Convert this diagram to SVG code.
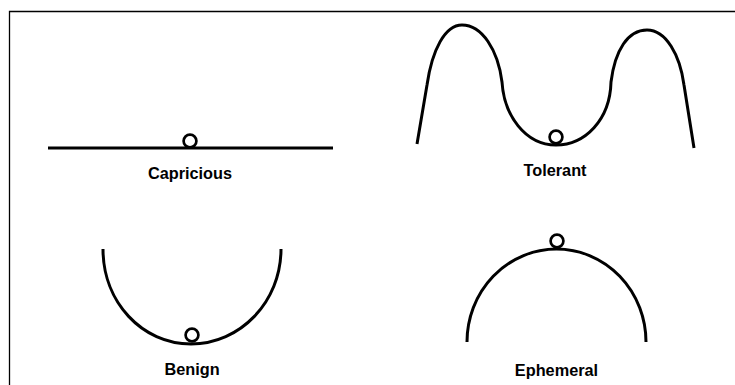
<svg xmlns="http://www.w3.org/2000/svg" width="735" height="385" viewBox="0 0 735 385">
<style>
.curve{fill:none;stroke:#000;stroke-width:3;stroke-linecap:butt;stroke-linejoin:round}
.ball{fill:#fff;stroke:#000;stroke-width:2.7}
.frame{fill:none;stroke:#000;stroke-width:1.3}
.label{font-family:"Liberation Sans",Arial,sans-serif;font-weight:bold;font-size:16.3px;fill:#000;text-anchor:middle}
</style>
<rect width="735" height="385" fill="#fff"/>
<path class="frame" d="M9.5,385 L9.5,11.5 L735,11.5"/>
<g id="capricious">
<path class="curve" d="M48,148 L333,148"/>
<circle class="ball" cx="190" cy="141" r="6.4"/>
<text class="label" x="190" y="179">Capricious</text>
</g>
<g id="tolerant">
<path class="curve" d="M417,144 L427,85 C432,50 445,25 462,25 C482,25 498,50 502,82 C504,115 525,145 556,145 C585,145 610,120 611,82 C615,50 628,30 647,30 C666,30 680,55 684,85 L694,148"/>
<circle class="ball" cx="556" cy="137" r="6.4"/>
<text class="label" x="555" y="176">Tolerant</text>
</g>
<g id="benign">
<path class="curve" d="M103,249 C103,302 142,344 191,344 C240,344 281,302 281,249"/>
<circle class="ball" cx="192" cy="335" r="6.4"/>
<text class="label" x="192" y="375">Benign</text>
</g>
<g id="ephemeral">
<path class="curve" d="M467,342 A89.5,93 0 0 1 646,342"/>
<circle class="ball" cx="557" cy="241" r="6.4"/>
<text class="label" x="556.5" y="375.5">Ephemeral</text>
</g>
</svg>
